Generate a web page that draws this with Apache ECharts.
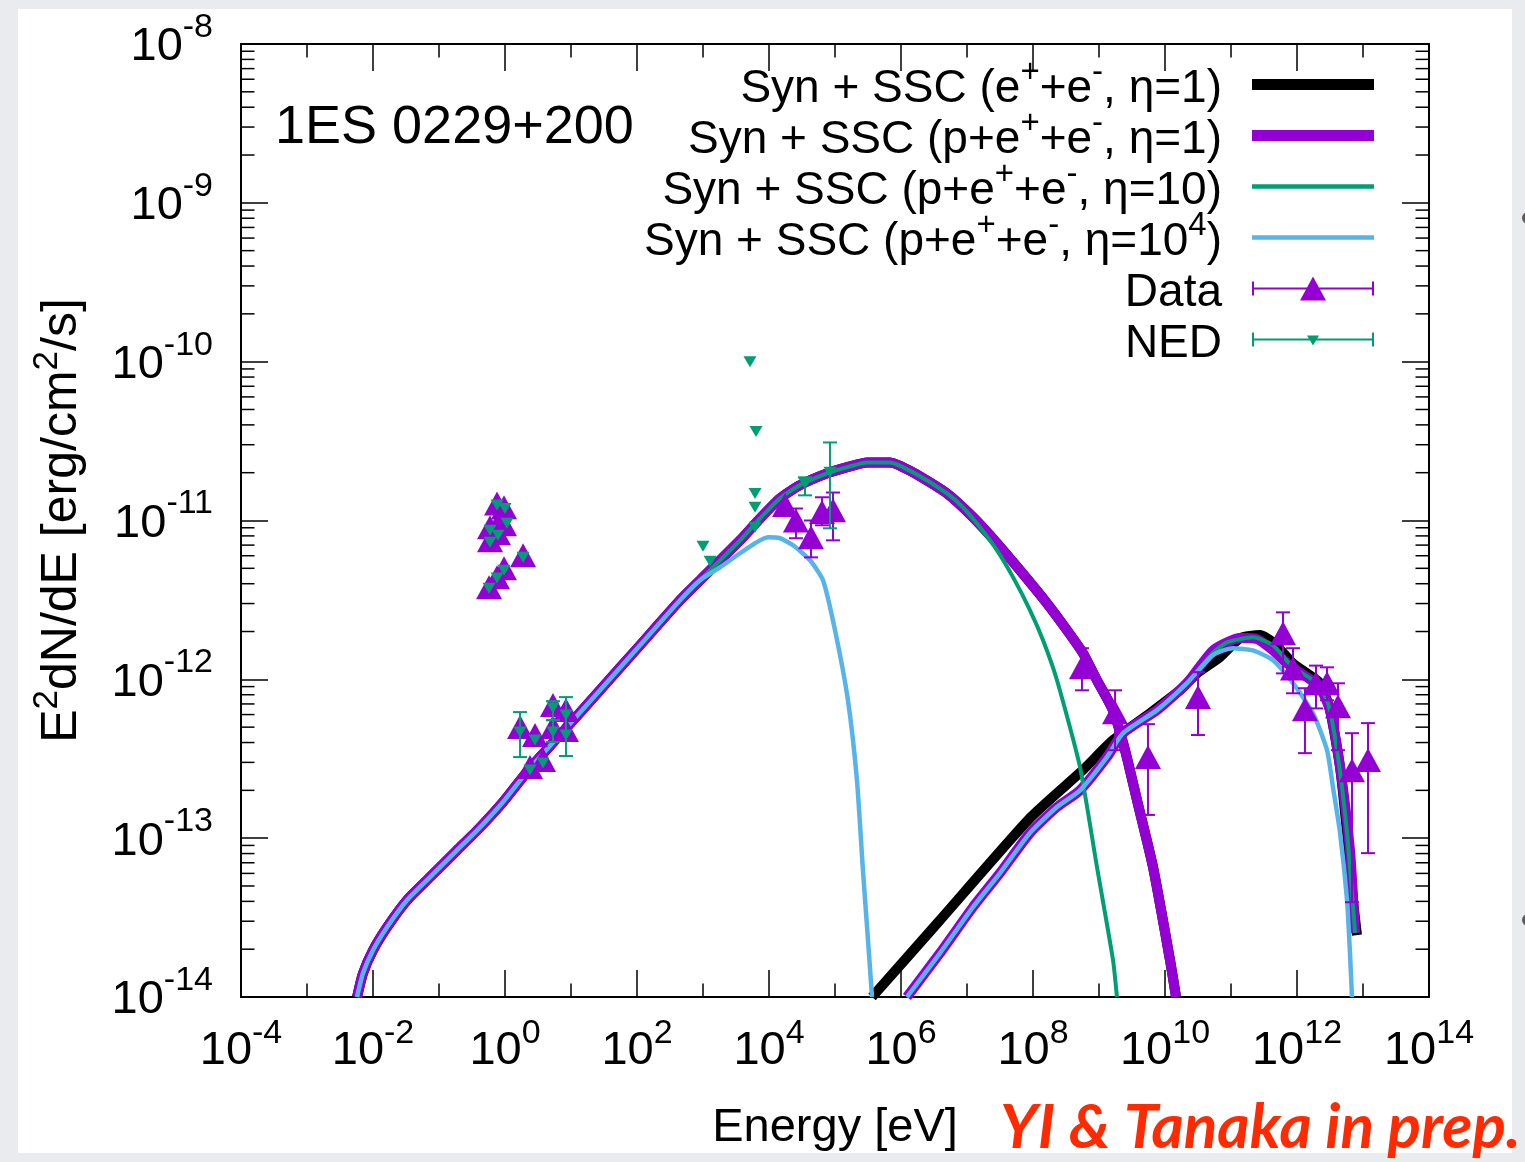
<!DOCTYPE html>
<html>
<head>
<meta charset="utf-8">
<title>1ES 0229+200 SED</title>
<script src="https://cdn.jsdelivr.net/npm/echarts@6/dist/echarts.min.js"></script>
<style>
  html, body { margin: 0; padding: 0; background: #ffffff; }
  #chart { width: 1525px; height: 1162px; }
</style>
</head>
<body>
<div id="chart"></div>
<script>
// ---------------- model curves: [energy eV, E^2 dN/dE erg/cm^2/s] ----------------
// synchrotron rising branch, common to every model
const synRise = [
  [5.73e-3, 1.0e-14], [7.05e-3, 1.41e-14], [1.0e-2, 1.97e-14], [1.63e-2, 2.75e-14],
  [3.27e-2, 4.07e-14], [7.31e-2, 5.69e-14], [1.88e-1, 8.41e-14], [4.18e-1, 1.17e-13],
  [9.33e-1, 1.69e-13], [2.39, 2.76e-13], [6.81, 4.46e-13], [27.5, 8.55e-13],
  [111, 1.64e-12], [449, 3.15e-12], [902, 4.21e-12]
];
// synchrotron peak and cut-off, eta = 1 (pair and p+pair models coincide)
const synFallEta1 = [
  [3.64e3, 7.50e-12], [7.31e3, 1.03e-11], [1.47e4, 1.38e-11], [2.95e4, 1.67e-11],
  [7.57e4, 1.98e-11], [1.69e5, 2.19e-11], [3.05e5, 2.32e-11], [6.81e5, 2.32e-11],
  [1.52e6, 2.01e-11], [4.98e6, 1.48e-11], [1.23e7, 1.05e-11], [2.85e7, 7.19e-12],
  [6.35e7, 4.86e-12], [1.63e8, 3.01e-12], [3.27e8, 2.04e-12], [5.73e8, 1.46e-12],
  [9.33e8, 9.86e-13], [1.63e9, 6.38e-13], [2.48e9, 3.58e-13], [3.77e9, 1.73e-13],
  [6.58e9, 6.58e-14], [1.19e10, 1.71e-14], [1.47e10, 1.0e-14]
];
// synchrotron peak and cut-off, eta = 10
const synFallEta10 = [
  [3.64e3, 7.50e-12], [7.31e3, 1.03e-11], [1.47e4, 1.38e-11], [2.95e4, 1.67e-11],
  [7.57e4, 1.98e-11], [1.69e5, 2.19e-11], [3.05e5, 2.32e-11], [6.81e5, 2.32e-11],
  [1.52e6, 2.01e-11], [4.98e6, 1.48e-11], [8.69e6, 1.21e-11], [1.57e7, 9.06e-12],
  [2.85e7, 6.49e-12], [4.98e7, 4.40e-12], [9.02e7, 2.72e-12], [1.42e8, 1.76e-12],
  [2.31e8, 9.86e-13], [5.15e8, 2.80e-13], [9.33e8, 6.56e-14], [1.63e9, 1.71e-14],
  [1.87e9, 1.0e-14]
];
// synchrotron peak and cut-off, eta = 10^4
const synFallEta1e4 = [
  [1.81e3, 5.07e-12], [3.64e3, 6.22e-12], [6.14e3, 7.19e-12], [9.66e3, 7.83e-12],
  [1.47e4, 7.73e-12], [2.31e4, 6.98e-12], [4.18e4, 5.62e-12], [6.58e4, 4.21e-12],
  [1.0e5, 2.04e-12], [1.57e5, 7.40e-13], [2.15e5, 2.32e-13], [2.65e5, 6.30e-14],
  [3.16e5, 2.29e-14], [3.64e5, 1.0e-14]
];
// SSC branch, pure e+e- model
const sscPairOnly = [
  [3.64e5, 1.0e-14], [3.90e6, 3.05e-14], [9.02e7, 1.34e-13], [5.73e8, 2.69e-13],
  [1.63e9, 4.14e-13], [5.93e9, 6.12e-13], [1.69e10, 8.55e-13], [3.05e10, 1.09e-12],
  [6.81e10, 1.38e-12], [1.37e11, 1.82e-12], [2.75e11, 1.90e-12], [4.33e11, 1.71e-12],
  [8.69e11, 1.26e-12], [1.42e12, 1.09e-12], [2.23e12, 9.46e-13], [3.16e12, 6.40e-13],
  [4.49e12, 2.80e-13], [5.73e12, 1.08e-13], [7.05e12, 4.07e-14], [8.11e12, 2.45e-14]
];
// SSC branch, p+e+e-, eta = 1
const sscEta1 = [
  [1.23e6, 1.0e-14], [3.90e6, 1.89e-14], [1.23e7, 3.68e-14], [3.16e7, 6.03e-14],
  [9.02e7, 1.08e-13], [2.31e8, 1.57e-13], [5.15e8, 2.00e-13], [1.32e9, 3.24e-13],
  [2.31e9, 4.58e-13], [7.57e9, 6.40e-13], [2.15e10, 9.46e-13], [5.33e10, 1.52e-12],
  [1.37e11, 1.82e-12], [2.48e11, 1.79e-12], [4.33e11, 1.52e-12], [7.05e11, 1.26e-12],
  [1.42e12, 1.03e-12], [2.23e12, 8.91e-13], [3.16e12, 6.40e-13], [4.49e12, 2.80e-13],
  [6.35e12, 8.41e-14], [7.57e12, 2.53e-14]
];
// SSC branch, p+e+e-, eta = 10
const sscEta10 = [
  [1.23e6, 1.0e-14], [3.90e6, 1.89e-14], [1.23e7, 3.68e-14], [3.16e7, 6.03e-14],
  [9.02e7, 1.08e-13], [2.31e8, 1.57e-13], [5.15e8, 2.00e-13], [1.32e9, 3.24e-13],
  [2.31e9, 4.58e-13], [7.57e9, 6.40e-13], [2.15e10, 9.46e-13], [5.33e10, 1.47e-12],
  [8.69e10, 1.71e-12], [2.15e11, 1.84e-12], [4.33e11, 1.64e-12], [8.69e11, 1.19e-12],
  [1.75e12, 9.86e-13], [2.85e12, 7.38e-13], [4.04e12, 3.58e-13], [5.73e12, 1.08e-13],
  [7.57e12, 2.53e-14]
];
// SSC branch, p+e+e-, eta = 10^4
const sscEta1e4 = [
  [1.23e6, 1.0e-14], [3.90e6, 1.89e-14], [1.23e7, 3.68e-14], [3.16e7, 6.03e-14],
  [9.02e7, 1.08e-13], [2.31e8, 1.57e-13], [5.15e8, 2.00e-13], [1.32e9, 3.24e-13],
  [2.31e9, 4.58e-13], [7.57e9, 6.40e-13], [2.15e10, 9.46e-13], [5.33e10, 1.42e-12],
  [1.07e11, 1.57e-12], [2.15e11, 1.52e-12], [4.33e11, 1.32e-12], [8.69e11, 9.46e-13],
  [1.75e12, 6.12e-13], [2.85e12, 3.58e-13], [3.51e12, 2.09e-13], [4.49e12, 1.08e-13],
  [5.73e12, 4.07e-14], [6.35e12, 1.89e-14], [6.81e12, 1.0e-14]
];

// ---------------- measurements ----------------
const dataEnergy = [
  0.757, 0.966, 0.593, 0.811, 0.966, 0.593, 0.783, 1.88, 0.966, 0.757, 0.573,
  1.69, 2.85, 5.33, 5.33, 8.39, 8.39, 2.39, 3.77,
  1.75e4, 2.56e4, 4.33e4, 6.35e4, 9.33e4,
  5.52e8, 1.75e9, 5.52e9, 3.16e10, 6.14e11, 8.69e11, 1.32e12, 1.94e12, 2.85e12, 4.18e12, 6.81e12, 1.19e13
];
const dataFlux = [
  1.28e-11, 1.21e-11, 9.06e-12, 9.75e-12, 9.46e-12, 7.50e-12, 8.32e-12, 6.04e-12, 5.01e-12, 4.40e-12, 3.80e-12,
  5.01e-13, 4.46e-13, 6.89e-13, 5.01e-13, 6.40e-13, 4.79e-13, 2.81e-13, 3.10e-13,
  1.25e-11, 1.00e-11, 7.83e-12, 1.13e-11, 1.16e-11,
  1.19e-12, 6.21e-13, 3.24e-13, 7.73e-13, 1.95e-12, 1.17e-12, 6.47e-13, 9.44e-13, 9.44e-13, 6.78e-13, 2.68e-13, 3.10e-13
];
const dataLow = [
  null, null, null, null, null, null, null, null, null, null, null,
  null, null, null, null, null, null, null, null,
  null, 7.73e-12, 5.86e-12, 9.33e-12, 7.50e-12,
  8.53e-13, 3.58e-13, 1.40e-13, 4.46e-13, 1.09e-12, 8.17e-13, 3.43e-13, 6.56e-13, 7.38e-13, 3.58e-13, 3.95e-14, 8.05e-14
];
const dataHigh = [
  null, null, null, null, null, null, null, null, null, null, null,
  null, null, null, null, null, null, null, null,
  null, 1.19e-11, 1.00e-11, 1.40e-11, 1.50e-11,
  1.57e-12, 8.53e-13, 5.22e-13, 1.11e-12, 2.64e-12, 1.57e-12, 8.79e-13, 1.22e-12, 1.19e-12, 9.44e-13, 4.58e-13, 5.30e-13
];

const nedEnergy = [
  0.757, 1.0, 1.07, 0.593, 0.593, 0.783, 1.88, 0.966, 0.757, 0.573,
  1.69, 2.85, 5.33, 5.33, 8.39, 8.39, 2.39, 3.77,
  1.0e3, 1.28e3, 5.15e3, 6.35e3, 6.14e3, 6.14e3, 6.14e3,
  3.51e4, 8.39e4
];
const nedFlux = [
  1.25e-11, 1.19e-11, 9.62e-12, 8.67e-12, 7.30e-12, 8.07e-12, 5.86e-12, 4.86e-12, 4.34e-12, 3.75e-12,
  4.66e-13, 4.15e-13, 6.59e-13, 4.66e-13, 5.96e-13, 4.46e-13, 2.69e-13, 2.97e-13,
  6.89e-12, 5.53e-12, 1.0e-10, 3.64e-11, 1.48e-11, 1.21e-11, 9.06e-12,
  1.71e-11, 2.01e-11
];
const nedLow = [
  null, null, null, null, null, null, null, null, null, null,
  3.24e-13, null, 5.53e-13, 4.03e-13, 3.29e-13, null, null, null,
  null, null, null, null, null, null, null,
  1.44e-11, 8.93e-12
];
const nedHigh = [
  null, null, null, null, null, null, null, null, null, null,
  6.22e-13, null, 7.29e-13, 5.53e-13, 7.73e-13, null, null, null,
  null, null, null, null, null, null, null,
  1.87e-11, 3.10e-11
];

// ---------------- names and legend text ----------------
const N_PAIR = 'Syn + SSC (e+ +e-, eta=1)';
const N_ETA1 = 'Syn + SSC (p+e+ +e-, eta=1)';
const N_ETA10 = 'Syn + SSC (p+e+ +e-, eta=10)';
const N_ETA1E4 = 'Syn + SSC (p+e+ +e-, eta=10^4)';
const legendText = {
  [N_PAIR]: 'Syn + SSC (e{sup|+}+e{sup|-}, η=1)',
  [N_ETA1]: 'Syn + SSC (p+e{sup|+}+e{sup|-}, η=1)',
  [N_ETA10]: 'Syn + SSC (p+e{sup|+}+e{sup|-}, η=10)',
  [N_ETA1E4]: 'Syn + SSC (p+e{sup|+}+e{sup|-}, η=10{sup|4})',
  'Data': 'Data',
  'NED': 'NED'
};

const FONT = "'Liberation Sans', Arial, Helvetica, sans-serif";
const PURPLE = '#9400d3';
const GREEN = '#009e73';
const BLUE = '#56b4e9';

// ---------------- helpers ----------------
function powLabel(v) {
  return '{b|10}{s|' + Math.round(Math.log10(v)) + '}';
}

function modelSeries(name, syn, ssc, color, width, z) {
  return {
    type: 'line', name: name,
    data: syn.concat([['-', '-']], ssc),
    symbol: 'none', showSymbol: false, smooth: 0.2, connectNulls: false,
    lineStyle: { color: color, width: width, cap: 'butt', join: 'round' },
    itemStyle: { color: color },
    z: z, silent: true, clip: true
  };
}

function pointSeries(name, energy, flux, symbolSize, rotate, color, z) {
  return {
    type: 'scatter', name: name,
    data: energy.map((e, i) => [e, flux[i]]),
    symbol: 'triangle', symbolSize: symbolSize, symbolRotate: rotate,
    itemStyle: { color: color, opacity: 1 },
    z: z, silent: true
  };
}

function errorBarSeries(name, energy, low, high, color, capHalf, z) {
  const rows = [];
  energy.forEach((e, i) => { if (low[i] != null) rows.push([e, low[i], high[i]]); });
  return {
    type: 'custom', name: name, data: rows,
    encode: { x: 0, y: [1, 2] },
    itemStyle: { color: color },
    z: z, silent: true,
    renderItem: function (params, api) {
      const lo = api.coord([api.value(0), api.value(1)]);
      const hi = api.coord([api.value(0), api.value(2)]);
      const st = { stroke: color, lineWidth: 2 };
      return {
        type: 'group',
        children: [
          { type: 'line', shape: { x1: lo[0], y1: lo[1], x2: hi[0], y2: hi[1] }, style: st },
          { type: 'line', shape: { x1: lo[0] - capHalf, y1: lo[1], x2: lo[0] + capHalf, y2: lo[1] }, style: st },
          { type: 'line', shape: { x1: hi[0] - capHalf, y1: hi[1], x2: hi[0] + capHalf, y2: hi[1] }, style: st }
        ]
      };
    }
  };
}

// short ticks: 2..9 within each decade on y, odd decades on x (both frame sides)
const minorTickSeries = {
  type: 'custom', name: 'minor ticks', data: [[1, 1e-11]], silent: true, z: 12,
  renderItem: function (params, api) {
    const cs = params.coordSys;
    const left = cs.x, right = cs.x + cs.width, top = cs.y, bottom = cs.y + cs.height;
    const len = 13.5;
    const st = { stroke: '#000', lineWidth: 1.5 };
    const kids = [];
    for (let d = -14; d < -8; d++) {
      for (let m = 2; m <= 9; m++) {
        const y = api.coord([1, m * Math.pow(10, d)])[1];
        kids.push({ type: 'line', shape: { x1: left, y1: y, x2: left + len, y2: y }, style: st });
        kids.push({ type: 'line', shape: { x1: right - len, y1: y, x2: right, y2: y }, style: st });
      }
    }
    for (let e = -3; e <= 13; e += 2) {
      const x = api.coord([Math.pow(10, e), 1e-11])[0];
      kids.push({ type: 'line', shape: { x1: x, y1: bottom, x2: x, y2: bottom - len }, style: st });
      kids.push({ type: 'line', shape: { x1: x, y1: top, x2: x, y2: top + len }, style: st });
    }
    return { type: 'group', children: kids };
  }
};

const frameLine = { show: true, onZero: false, lineStyle: { color: '#000', width: 2 } };
const majorTick = { show: true, inside: true, length: 27, lineStyle: { color: '#000', width: 1.5 } };

// tall base line boxes leave room for the exponent to sit high
const xLabelRich = {
  b: { fontFamily: FONT, fontSize: 47, lineHeight: 69, color: '#000' },
  s: { fontFamily: FONT, fontSize: 34, verticalAlign: 'top', color: '#000' }
};
const yLabelRich = {
  b: { fontFamily: FONT, fontSize: 47, lineHeight: 74, color: '#000' },
  s: { fontFamily: FONT, fontSize: 34, verticalAlign: 'top', color: '#000' }
};

const option = {
  animation: false,
  backgroundColor: '#ffffff',
  textStyle: { fontFamily: FONT },
  title: {
    text: '1ES 0229+200', left: 275, top: 101, padding: 0,
    textStyle: { fontFamily: FONT, fontSize: 54, fontWeight: 'normal', color: '#000' }
  },
  grid: { left: 241, top: 44, width: 1188, height: 953, containLabel: false, outerBoundsMode: 'none' },
  legend: {
    orient: 'vertical', right: 151, top: 46, align: 'right', padding: 0,
    itemWidth: 122, itemHeight: 24, itemGap: -26, selectedMode: false,
    data: [
      { name: N_PAIR, icon: 'path://M0,0L122,0L122,11L0,11Z' },
      { name: N_ETA1, icon: 'path://M0,0L122,0L122,11L0,11Z' },
      { name: N_ETA10, icon: 'path://M0,0L122,0L122,4.3L0,4.3Z' },
      { name: N_ETA1E4, icon: 'path://M0,0L122,0L122,4.7L0,4.7Z' },
      { name: 'Data', icon: 'path://M0,11L122,11L122,13L0,13Z M0,5L2,5L2,19L0,19Z M120,5L122,5L122,19L120,19Z M48,24L61,0L74,24Z' },
      { name: 'NED', icon: 'path://M0,6L122,6L122,8L0,8Z M0,0L2,0L2,14L0,14Z M120,0L122,0L122,14L120,14Z M55,3L67,3L61,13Z' }
    ],
    formatter: function (name) { return legendText[name]; },
    textStyle: {
      fontFamily: FONT, fontSize: 46, lineHeight: 67, color: '#000', padding: [10, 25, 0, 0],
      rich: { sup: { fontFamily: FONT, fontSize: 33, verticalAlign: 'top', color: '#000' } }
    }
  },
  xAxis: [
    {
      type: 'log', logBase: 100, min: 1e-4, max: 1e14, position: 'bottom', gridIndex: 0,
      axisLine: frameLine, axisTick: majorTick, splitLine: { show: false },
      axisLabel: { formatter: powLabel, margin: 20, rich: xLabelRich, color: '#000', showMinLabel: true, showMaxLabel: true, hideOverlap: false },
      name: 'Energy [eV]', nameLocation: 'middle', nameGap: 108, nameMoveOverlap: false,
      nameTextStyle: { fontFamily: FONT, fontSize: 47, color: '#000' }
    },
    {
      type: 'log', logBase: 100, min: 1e-4, max: 1e14, position: 'top', gridIndex: 0,
      axisLine: frameLine, axisTick: majorTick, splitLine: { show: false },
      axisLabel: { show: false }
    }
  ],
  yAxis: [
    {
      type: 'log', logBase: 10, min: 1e-14, max: 1e-8, position: 'left', gridIndex: 0,
      axisLine: frameLine, axisTick: majorTick, splitLine: { show: false },
      axisLabel: { formatter: powLabel, margin: 28, padding: [7, 0, 0, 0], rich: yLabelRich, color: '#000', showMinLabel: true, showMaxLabel: true, hideOverlap: false },
      name: 'E{s|2}dN/dE [erg/cm{s|2}/s]', nameLocation: 'middle', nameRotate: 90, nameGap: 147, nameMoveOverlap: false,
      nameTextStyle: {
        fontFamily: FONT, fontSize: 50, lineHeight: 64, color: '#000',
        rich: { s: { fontFamily: FONT, fontSize: 35, verticalAlign: 'top', color: '#000' } }
      }
    },
    {
      type: 'log', logBase: 10, min: 1e-14, max: 1e-8, position: 'right', gridIndex: 0,
      axisLine: frameLine, axisTick: majorTick, splitLine: { show: false },
      axisLabel: { show: false }
    }
  ],
  series: [
    modelSeries(N_PAIR, synRise.concat(synFallEta1), sscPairOnly, '#000000', 10, 2),
    modelSeries(N_ETA1, synRise.concat(synFallEta1), sscEta1, PURPLE, 10, 3),
    modelSeries(N_ETA10, synRise.concat(synFallEta10), sscEta10, GREEN, 4, 4),
    modelSeries(N_ETA1E4, synRise.concat(synFallEta1e4), sscEta1e4, BLUE, 4.5, 5),
    pointSeries('Data', dataEnergy, dataFlux, [26, 24], 0, PURPLE, 7),
    errorBarSeries('Data', dataEnergy, dataLow, dataHigh, PURPLE, 7, 6),
    pointSeries('NED', nedEnergy, nedFlux, [13, 11], 180, GREEN, 9),
    errorBarSeries('NED', nedEnergy, nedLow, nedHigh, GREEN, 7, 8),
    minorTickSeries
  ],
  graphic: [
    { type: 'rect', silent: true, z: 50, shape: { x: 0, y: 0, width: 1525, height: 9 }, style: { fill: '#e9ebee' } },
    { type: 'rect', silent: true, z: 50, shape: { x: 0, y: 1153, width: 1525, height: 9 }, style: { fill: '#e9ebee' } },
    { type: 'rect', silent: true, z: 50, shape: { x: 0, y: 0, width: 18, height: 1162 }, style: { fill: '#e9ebee' } },
    { type: 'rect', silent: true, z: 50, shape: { x: 1512, y: 0, width: 13, height: 1162 }, style: { fill: '#e9ebee' } },
    { type: 'circle', silent: true, z: 51, shape: { cx: 1528, cy: 218, r: 6 }, style: { fill: '#5a5a5a' } },
    { type: 'circle', silent: true, z: 51, shape: { cx: 1528, cy: 920, r: 6 }, style: { fill: '#5a5a5a' } },
    {
      type: 'text', silent: true, z: 60, left: 1000, top: 1097,
      style: { text: 'YI & Tanaka in prep.', fill: '#ff2a00', fontFamily: "Lato, 'Open Sans', sans-serif", fontSize: 62, fontStyle: 'italic', fontWeight: 'bold' }
    }
  ]
};

const chart = echarts.init(document.getElementById('chart'), null, { renderer: 'canvas' });
chart.setOption(option);
</script>
</body>
</html>
